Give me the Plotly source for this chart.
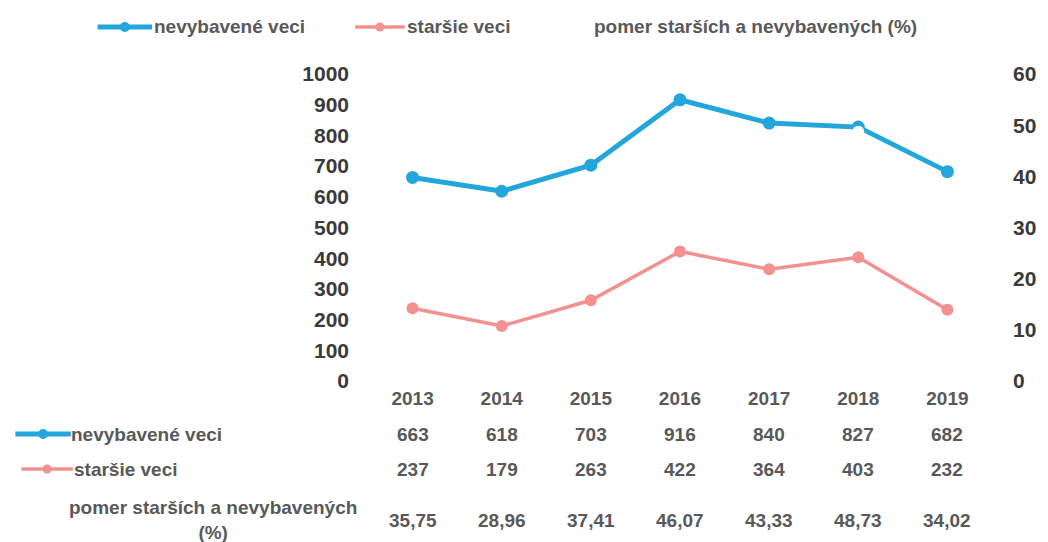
import plotly.graph_objects as go

# data
years = [2013, 2014, 2015, 2016, 2017, 2018, 2019]
nevybavene = [663, 618, 703, 916, 840, 827, 682]
starsie = [237, 179, 263, 422, 364, 403, 232]
pomer = [35.75, 28.96, 37.41, 46.07, 43.33, 48.73, 34.02]
pomer_labels = ['35,75', '28,96', '37,41', '46,07', '43,33', '48,73', '34,02']

name_blue = 'nevybavené veci'
name_pink = 'staršie veci'
name_white = 'pomer starších a nevybavených (%)'

BLUE = '#22A6DB'
PINK = '#F39090'
GRAY = '#595959'
DARK = '#3A3A3A'
FONT = 'Liberation Sans, Arial, sans-serif'

W, H = 1048, 542
L, R, T, B = 368, 50, 74, 161
PW, PH = W - L - R, H - T - B


def px(x):
    return (x - L) / PW


def py(y):
    return (H - B - y) / PH


fig = go.Figure()

fig.add_trace(go.Scatter(
    x=years, y=nevybavene, name=name_blue, mode='lines+markers',
    line=dict(color=BLUE, width=5), marker=dict(color=BLUE, size=13),
    showlegend=False))
fig.add_trace(go.Scatter(
    x=years, y=starsie, name=name_pink, mode='lines+markers',
    line=dict(color=PINK, width=3.5), marker=dict(color=PINK, size=12),
    showlegend=False))
fig.add_trace(go.Scatter(
    x=years, y=pomer, name=name_white, mode='lines+markers', yaxis='y2',
    line=dict(color='white', width=3.5), marker=dict(color='white', size=12),
    showlegend=False))

shapes = []
annotations = []


def add_icon(x0, x1, y, color, width, msize):
    shapes.append(dict(type='line', xref='paper', yref='paper',
                       x0=px(x0), x1=px(x1), y0=py(y), y1=py(y),
                       line=dict(color=color, width=width)))
    r = msize / 2
    shapes.append(dict(type='circle', xref='paper', yref='paper',
                       xsizemode='pixel', ysizemode='pixel',
                       xanchor=px((x0 + x1) / 2), yanchor=py(y),
                       x0=-r, x1=r, y0=-r, y1=r,
                       fillcolor=color, line=dict(width=0)))


def add_text(x, y, text, anchor='left', size=19, color=GRAY, align='left'):
    annotations.append(dict(xref='paper', yref='paper', x=px(x), y=py(y),
                            text=text, showarrow=False, xanchor=anchor,
                            yanchor='middle', align=align,
                            font=dict(family=FONT, size=size, color=color,
                                      weight='bold')))


# legend at the top
add_icon(95, 150, 27, BLUE, 5, 10)
add_text(150, 27, name_blue)
add_icon(355, 405, 27, PINK, 3.5, 9)
add_text(405, 27, name_pink)
add_icon(545, 595, 27, 'white', 3.5, 9)
add_text(594, 27, name_white)

# data table below the axis
add_icon(12, 68, 434, BLUE, 5, 10)
add_text(66, 434, name_blue)
add_icon(18, 70, 469, PINK, 3.5, 9)
add_text(69, 469, name_pink)
add_icon(10, 60, 507, 'white', 3.5, 9)
add_text(212, 520, 'pomer starších a nevybavených<br>(%)', anchor='center',
         align='center')

for row_vals, ypos in [(nevybavene, 434), (starsie, 469), (pomer_labels, 520)]:
    for yr, v in zip(years, row_vals):
        annotations.append(dict(xref='x', yref='paper', x=yr, y=py(ypos),
                                text=str(v), showarrow=False,
                                xanchor='center', yanchor='middle',
                                font=dict(family=FONT, size=19, color=GRAY,
                                          weight='bold')))

fig.update_layout(
    width=W, height=H,
    margin=dict(l=L, r=R, t=T, b=B),
    paper_bgcolor='white', plot_bgcolor='white',
    shapes=shapes, annotations=annotations,
    xaxis=dict(range=[years[0] - 0.5, years[-1] + 0.5],
               tickvals=years, ticktext=[str(y) for y in years],
               showgrid=False, zeroline=False,
               showline=False, ticks='', ticklabelstandoff=4,
               tickfont=dict(family=FONT, size=19, color=GRAY,
                             weight='bold')),
    yaxis=dict(range=[0, 1000], dtick=100, showgrid=False, zeroline=False,
               showline=False, ticks='', ticklabelstandoff=18,
               tickfont=dict(family=FONT, size=21, color=DARK,
                             weight='bold')),
    yaxis2=dict(range=[0, 60], dtick=10, overlaying='y', side='right',
                showgrid=False, zeroline=False, showline=False, ticks='',
                ticklabelstandoff=20,
                tickfont=dict(family=FONT, size=21, color=DARK,
                              weight='bold')),
)

fig.write_html('out.html', config={'displayModeBar': False},
               post_script="document.body.style.margin='0';")
